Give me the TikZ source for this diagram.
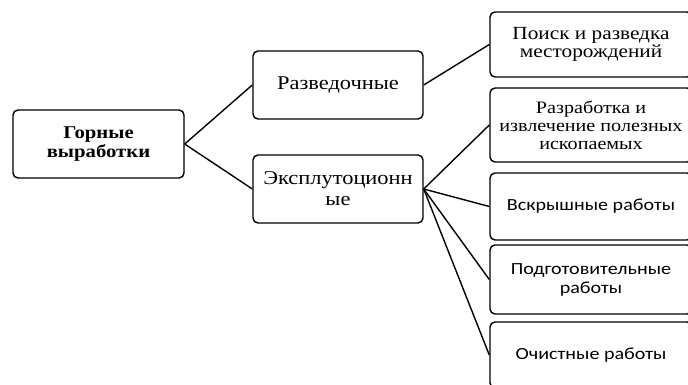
\documentclass[tikz,border=0pt]{standalone}
\usepackage{fontspec}
\setmainfont{Liberation Serif}[FakeStretch=1.15]
\newfontfamily\calibrifont{Carlito}[FakeStretch=1.18]

\tikzset{
	box/.style = {draw, rounded corners = 5pt, line width = 1.4pt, align = center, inner sep = 0pt},
	leftbox/.style = {box, minimum width = 170pt, minimum height = 68pt},
	rightbox/.style = {box, minimum width = 202pt},
	link/.style = {line width = 1.4pt}
}

\begin{document}
\begin{tikzpicture}[x = 1pt, y = -1pt]

	\clip (0, 0) rectangle (688, 385);

	% Root
	
	\node [leftbox, minimum width = 171pt, font = \fontsize{18}{19}\selectfont\bfseries] (vyrabotki) at (98.5, 144) {Горные\\выработки};

	% Two kinds of workings
	
	\node [leftbox, font = \fontsize{19.5}{20}\selectfont] (razvedochnye) at (338, 85) {Разведочные};
	\node [leftbox, font = \fontsize{19.5}{21}\selectfont] (ekspl) at (338, 189) {Эксплутоционн\\ые};

	% Purposes of the workings
	
	\node [rightbox, minimum height = 65pt, font = \fontsize{18.5}{18}\selectfont] (poisk) at (591, 44.5) {Поиск и разведка\\месторождений};
	\node [rightbox, minimum height = 74pt, font = \fontsize{17.5}{18}\selectfont] (razrabotka) at (591, 125) {Разработка и\\извлечение полезных\\ископаемых};
	
	\begin{scope}[font = \fontsize{17}{19}\selectfont\calibrifont]
	
		\node [rightbox, minimum height = 67pt] (vskrysh) at (591, 206.5) {Вскрышные работы};
		\node [rightbox, minimum height = 69pt] (podgot) at (591, 279.5) {Подготовительные\\работы};
		\node [rightbox, minimum height = 66pt] (ochist) at (591, 355) {Очистные работы};
	
	\end{scope}

	% Connecting lines
	
	\begin{scope}[link]
	
		\draw (vyrabotki.east) -- (razvedochnye.west);
		\draw (vyrabotki.east) -- (ekspl.west);
		
		\draw (razvedochnye.east) -- (poisk.west);
		
		\foreach \target in {razrabotka, vskrysh, podgot, ochist}
			\draw (ekspl.east) -- (\target.west);
	
	\end{scope}

\end{tikzpicture}
\end{document}
